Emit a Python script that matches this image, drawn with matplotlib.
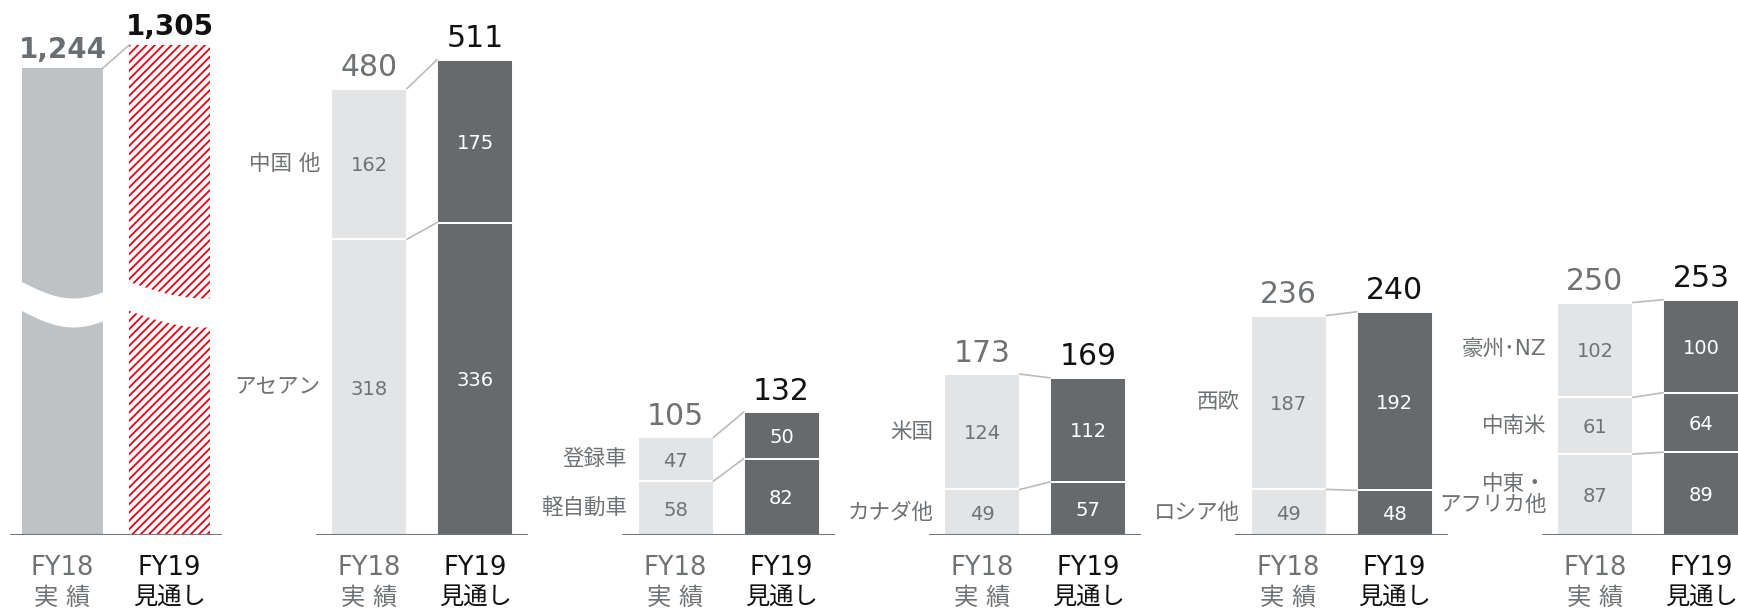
import numpy as np
import matplotlib.pyplot as plt
import matplotlib.transforms as mtransforms

plt.rcParams['font.family'] = ['DejaVu Sans', 'Noto Sans CJK JP']
plt.rcParams['hatch.color'] = '#e60012'
plt.rcParams['hatch.linewidth'] = 1.3

# Global total (broken bar)
global_fy18 = 1244
global_fy19 = 1305

# Regional breakdown, segments listed bottom -> top
segment_labels = [
    ["アセアン", "中国 他"],
    ["軽自動車", "登録車"],
    ["カナダ他", "米国"],
    ["ロシア他", "西欧"],
    ["中東・\nアフリカ他", "中南米", "豪州･NZ"],
]
fy18_values = [[318, 162], [58, 47], [49, 124], [49, 187], [87, 61, 102]]
fy19_values = [[336, 175], [82, 50], [57, 112], [48, 192], [89, 64, 100]]

fy18_tick = "FY18\n実 績"
fy19_tick = "FY19\n見通し"

GREY_TXT = '#6f7275'
LIGHT = '#e3e4e6'
DARK = '#676a6d'
GLOBAL_GREY = '#bfc2c4'
LINK = '#b9bbbd'
AXIS = '#74777a'

W, H = 1738, 609
base_px = 535          # baseline, px from top
unit_px = 306.5        # px per group step

fig = plt.figure(figsize=(W / 100, H / 100), dpi=100)
ax_rect_y = (H - base_px) / H
ax_rect_h = base_px / H

ax1 = fig.add_axes([0, ax_rect_y, 240 / W, ax_rect_h])
ax2 = fig.add_axes([0, ax_rect_y, 1, ax_rect_h])
for ax in (ax1, ax2):
    ax.set_axis_off()
    ax.patch.set_alpha(0)

ax1.set_xlim(-116 / unit_px, 124 / unit_px)
ax1.set_ylim(0, base_px / 0.3754)
ax2.set_xlim(-422 / unit_px, (W - 422) / unit_px)
ax2.set_ylim(0, base_px / 0.93)


def tick_labels(ax, xl, xr):
    for x, txt, col in ((xl, fy18_tick, GREY_TXT), (xr, fy19_tick, '#111111')):
        l1, l2 = txt.split("\n")
        ax.annotate(l1, (x, 0), xytext=(0, -28.5), textcoords='offset points',
                    ha='center', va='baseline', fontsize=18.5, color=col)
        ax.annotate(l2, (x, 0), xytext=(0, -50), textcoords='offset points',
                    ha='center', va='baseline', fontsize=17.5, color=col)


# ---- group 1: global total with break ----
off1, w1 = 107 / 2 / unit_px, 81 / unit_px
ax1.bar(-off1, global_fy18, width=w1, color=GLOBAL_GREY, linewidth=0)
ax1.bar(off1, global_fy19, width=w1, color='white', edgecolor='#e60012',
        hatch='////', linewidth=0)
ax1.plot([-0.347, 0.347], [0, 0], color=AXIS, lw=1.5, solid_capstyle='butt')
ax1.plot([-off1 + w1 / 2, off1 - w1 / 2], [global_fy18, global_fy19], color=LINK, lw=1.2)
ax1.annotate(f"{global_fy18:,}", (-off1, global_fy18), xytext=(0, 7.5), textcoords='offset points',
             ha='center', va='baseline', fontsize=20, fontweight='bold', color='#6a6e72')
ax1.annotate(f"{global_fy19:,}", (off1, global_fy19), xytext=(0, 7.5), textcoords='offset points',
             ha='center', va='baseline', fontsize=20, fontweight='bold', color='#111111')

# wavy break band
trans = mtransforms.blended_transform_factory(ax1.transData, ax1.transAxes)
y0, amp, thick = 0.4748, 17 / base_px, 29 / base_px
for cx, k in ((-off1, 0.8), (off1, 0.55)):
    xs = np.linspace(cx - w1 / 2 - 0.005, cx + w1 / 2 + 0.005, 60)
    t = (xs - xs[0]) / (xs[-1] - xs[0])
    top = y0 - amp * np.sin(k * np.pi * t)
    ax1.fill_between(xs, top - thick, top, color='white', transform=trans, lw=0)
tick_labels(ax1, -off1, off1)

# ---- groups 2-6: regional stacks ----
off, w = 106 / 2 / unit_px, 76 / unit_px
for i, (labels, v18, v19) in enumerate(zip(segment_labels, fy18_values, fy19_values)):
    xl, xr = i - off, i + off
    b18 = np.concatenate([[0], np.cumsum(v18)])
    b19 = np.concatenate([[0], np.cumsum(v19)])
    ax2.bar([xl] * len(v18), v18, bottom=b18[:-1], width=w, color=LIGHT,
            edgecolor='white', linewidth=1.4)
    ax2.bar([xr] * len(v19), v19, bottom=b19[:-1], width=w, color=DARK,
            edgecolor='white', linewidth=1.4)
    for k in range(len(v18)):
        ax2.text(xl, b18[k] + v18[k] / 2, str(v18[k]), ha='center', va='center_baseline',
                 fontsize=14, color=GREY_TXT)
        ax2.text(xr, b19[k] + v19[k] / 2, str(v19[k]), ha='center', va='center_baseline',
                 fontsize=14, color='white')
        ax2.annotate(labels[k], (xl - w / 2, b18[k] + v18[k] / 2), xytext=(-7.5, 0),
                     textcoords='offset points', ha='right', va='center',
                     multialignment='right', linespacing=1.05, fontsize=15.5, color=GREY_TXT)
        ax2.plot([xl + w / 2, xr - w / 2], [b18[k + 1], b19[k + 1]], color=LINK, lw=1.2)
    ax2.plot([i - 0.347, i + 0.347], [0, 0], color=AXIS, lw=1.5, solid_capstyle='butt')
    ax2.annotate(str(b18[-1]), (xl, b18[-1]), xytext=(0, 9), textcoords='offset points',
                 ha='center', va='baseline', fontsize=21.5, color=GREY_TXT)
    ax2.annotate(str(b19[-1]), (xr, b19[-1]), xytext=(0, 9), textcoords='offset points',
                 ha='center', va='baseline', fontsize=21.5, color='#111111')
    tick_labels(ax2, xl, xr)

fig.savefig('out.png', dpi=100)
